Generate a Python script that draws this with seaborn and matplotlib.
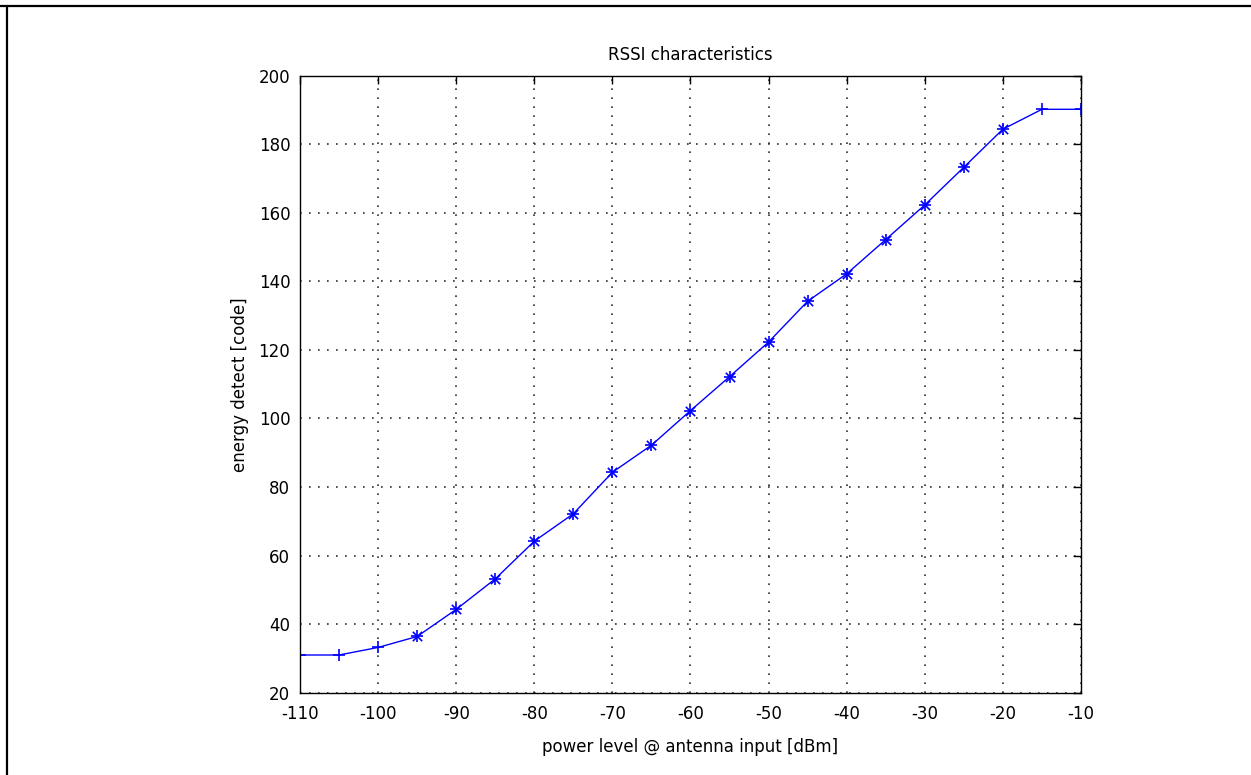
"""
RSSI characteristics: energy detect code vs. input power
"""
import numpy as np
import pandas as pd
import matplotlib
matplotlib.use("Agg")
import matplotlib.pyplot as plt
import seaborn as sns
from matplotlib.lines import Line2D

power_dbm = [-110, -105, -100, -95, -90, -85, -80, -75, -70, -65, -60,
             -55, -50, -45, -40, -35, -30, -25, -20, -15, -10]
energy_code = [31, 31, 33.2, 36.4, 44.3, 53.2, 64.2, 72.2, 84.3, 92.2, 102.3,
               112.2, 122.3, 134.2, 142.2, 152.2, 162.3, 173.3, 184.4, 190.2, 190.2]
# points drawn with the '*' marker (the rest only get '+')
star_points = [-95, -90, -85, -80, -75, -70, -65, -60, -55, -50,
               -45, -40, -35, -30, -25, -20]

x_ticks = list(range(-110, -9, 10))
y_ticks = list(range(20, 201, 20))

df = pd.DataFrame({"power": power_dbm, "code": energy_code})
df_star = df[df["power"].isin(star_points)]

sns.set_style("white")
plt.rcParams["font.family"] = ["DejaVu Sans"]
plt.rcParams["axes.unicode_minus"] = False
plt.rcParams["text.color"] = "black"
plt.rcParams["axes.labelcolor"] = "black"

fig = plt.figure(figsize=(12.51, 7.75), dpi=100)
ax = fig.add_axes([0.2398, 0.1062, 0.8641 - 0.2398, 0.9023 - 0.1062])

sns.lineplot(data=df, x="power", y="code", ax=ax, color="#0000ff",
             linewidth=1.0, marker="+", markersize=9, markeredgewidth=1.2,
             markeredgecolor="#0000ff", sort=False)
sns.scatterplot(data=df_star, x="power", y="code", ax=ax, marker="x",
                s=45, color="#0000ff", linewidth=1.2, zorder=4)

ax.set_xlim(-110, -10)
ax.set_ylim(20, 200)
ax.set_xticks(x_ticks)
ax.set_yticks(y_ticks)
ax.tick_params(direction="in", length=6, width=1, top=True, right=True,
               labelsize=12, colors="black")
ax.tick_params(axis="x", pad=9)
ax.tick_params(axis="y", pad=7)
for side in ax.spines.values():
    side.set_visible(True)
    side.set_color("black")
    side.set_linewidth(1.0)
    side.set_zorder(5)

ax.set_axisbelow(True)
ax.grid(True, color="#303030", linestyle=(0, (1, 4.4)), linewidth=1.2)

ax.set_title("RSSI characteristics", fontsize=12, pad=11, color="black")
ax.set_xlabel("power level @ antenna input [dBm]", fontsize=12, labelpad=11)
ax.set_ylabel("energy detect [code]", fontsize=12, labelpad=7)

# frame around the figure (top and left edges)
fig.add_artist(Line2D([0, 1], [1 - 5.5 / 775, 1 - 5.5 / 775],
                      transform=fig.transFigure, color="black", linewidth=1.6))
fig.add_artist(Line2D([6.5 / 1251, 6.5 / 1251], [0, 1 - 5.5 / 775],
                      transform=fig.transFigure, color="black", linewidth=1.6))

fig.savefig("out.png", dpi=100)
